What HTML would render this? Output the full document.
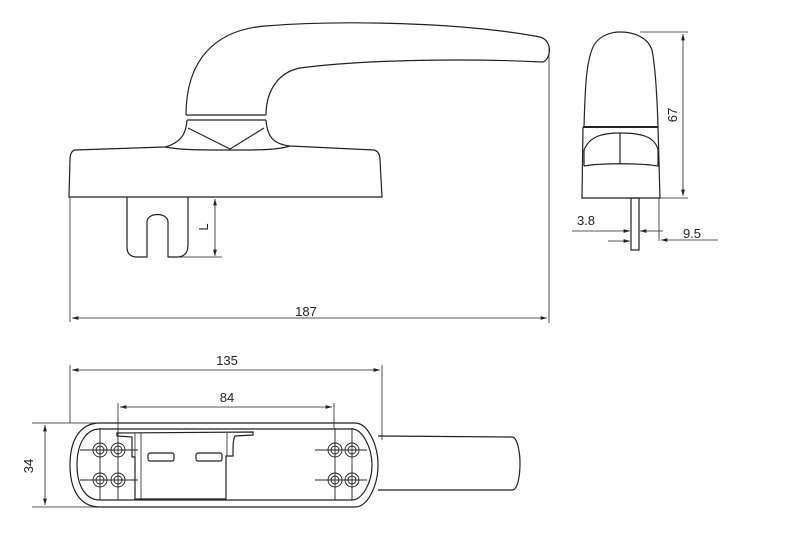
<!DOCTYPE html>
<html><head><meta charset="utf-8"><style>
html,body{margin:0;padding:0;background:#fff;}
svg{display:block}
text{font-family:"Liberation Sans",sans-serif;font-size:13px;fill:#222}
</style></head><body>
<svg width="799" height="540" viewBox="0 0 799 540" xmlns="http://www.w3.org/2000/svg">
<defs>
<marker id="a" viewBox="0 0 10 6" refX="10" refY="3" markerWidth="8" markerHeight="5" orient="auto-start-reverse"><path d="M0,0 L10,3 L0,6 z" fill="#222"/></marker>
</defs>
<g fill="none" stroke="#222" stroke-width="1.2">
<!-- handle side view -->
<path d="M186,115 C186,60 215,30 265,26 C340,20 460,22 540,37 C552,40 552,58 543,62 C460,58 360,60 300,68 C275,73 266,95 266,115"/>
<line x1="186" y1="115" x2="266" y2="115"/>
<line x1="187" y1="120" x2="266" y2="120"/>
<path d="M187,120 C186,135 180,143 165,147 L75,150 C71,151 70,155 70,160 L69,197 L382,197 L380,160 C380,154 378,151 374,150 L290,146 C272,144 267,135 266,120"/>
<path d="M165,147 C180,150 200,150 230,150 C260,150 278,150 290,146"/>
<path d="M188,128 L230,149 L264,128"/>
<!-- spindle plate -->
<path d="M127,197 L127,247 C127,254 131,257 137,257 L147,257 L147,222 C147,212 168,212 168,222 L168,257 L177,257 C184,257 188,253 188,245 L188,197"/>
<!-- handle end view -->
<path d="M584,127 C585,90 586,60 594,45 C600,35 612,32 620,32 C635,32 648,38 652,50 C655,65 657,95 658,127"/>
<line x1="583" y1="127" x2="658" y2="127" stroke-width="2"/>
<path d="M583,127 L582,198 L660,198 L658,127"/>
<path d="M584,166 L584,150 C590,135 605,133 620,133 C640,133 655,136 658,150 L658,166 C640,163 600,163 584,166"/>
<line x1="620" y1="133" x2="620" y2="164"/>
<rect x="631" y="198" width="8" height="52"/>
<!-- bottom view -->
<path d="M100,423 L355,423 C368,423 378,445 378,465 C378,485 368,507 355,507 L100,507 C80,507 70,490 70,465 C70,440 80,423 100,423 z"/>
<path d="M100,429 L352,429 C362,429 372,447 372,465 C372,483 362,500 352,500 L100,500 C85,500 77,485 77,465 C77,445 85,429 100,429 z"/>
<path d="M378,436 L512,437 C518,437 520,455 520,463 C520,475 518,490 512,490 L378,490"/>
<path d="M117,433 L253,432 L253,435 L235,436 C233,440 233,445 233,456 L226,456 L226,499 L135,499 L135,457 L132,457 L132,437 L117,436 z"/>
<line x1="135" y1="433" x2="135" y2="457" stroke-width="0.8"/>
<line x1="141" y1="433" x2="141" y2="499" stroke-width="0.8"/>
<line x1="227" y1="433" x2="227" y2="456" stroke-width="0.8"/>
<rect x="148" y="453" width="26" height="8" rx="2"/>
<rect x="196" y="453" width="26" height="8" rx="2"/>
<g stroke-width="0.9">
<circle cx="100" cy="450" r="7"/><circle cx="100" cy="450" r="4"/>
<circle cx="118" cy="450" r="7"/><circle cx="118" cy="450" r="4"/>
<circle cx="100" cy="480" r="7"/><circle cx="100" cy="480" r="4"/>
<circle cx="118" cy="480" r="7"/><circle cx="118" cy="480" r="4"/>
<circle cx="335" cy="450" r="7"/><circle cx="335" cy="450" r="4"/>
<circle cx="352" cy="450" r="7"/><circle cx="352" cy="450" r="4"/>
<circle cx="335" cy="480" r="7"/><circle cx="335" cy="480" r="4"/>
<circle cx="352" cy="480" r="7"/><circle cx="352" cy="480" r="4"/>
<line x1="100" y1="428" x2="100" y2="500"/><line x1="118" y1="428" x2="118" y2="500"/>
<line x1="335" y1="428" x2="335" y2="500"/><line x1="352" y1="428" x2="352" y2="500"/>
<line x1="80" y1="450" x2="138" y2="450"/><line x1="80" y1="480" x2="138" y2="480"/>
<line x1="315" y1="450" x2="367" y2="450"/><line x1="315" y1="480" x2="367" y2="480"/>
</g>
</g>
<!-- dimensions -->
<g fill="none" stroke="#222" stroke-width="0.8">
<line x1="70" y1="197" x2="70" y2="322"/>
<line x1="549" y1="45" x2="549" y2="323"/>
<line x1="72" y1="318" x2="547" y2="318" marker-start="url(#a)" marker-end="url(#a)"/>
<line x1="177" y1="257" x2="222" y2="257"/>
<line x1="215" y1="199" x2="215" y2="256" marker-start="url(#a)" marker-end="url(#a)"/>
<line x1="640" y1="32" x2="688" y2="32"/>
<line x1="660" y1="198" x2="688" y2="198"/>
<line x1="683" y1="34" x2="683" y2="196" marker-start="url(#a)" marker-end="url(#a)"/>
<line x1="572" y1="231" x2="630" y2="231" marker-end="url(#a)"/>
<line x1="663" y1="231" x2="640" y2="231" marker-end="url(#a)"/>
<line x1="608" y1="241" x2="630" y2="241" marker-end="url(#a)"/>
<line x1="659" y1="198" x2="659" y2="241"/>
<line x1="718" y1="240" x2="661" y2="240" marker-end="url(#a)"/>
<line x1="70" y1="365" x2="70" y2="423"/>
<line x1="382" y1="365" x2="382" y2="440"/>
<line x1="72" y1="370" x2="380" y2="370" marker-start="url(#a)" marker-end="url(#a)"/>
<line x1="118" y1="403" x2="118" y2="428"/>
<line x1="334" y1="403" x2="334" y2="428"/>
<line x1="120" y1="407" x2="332" y2="407" marker-start="url(#a)" marker-end="url(#a)"/>
<line x1="32" y1="423" x2="100" y2="423"/>
<line x1="32" y1="507" x2="100" y2="507"/>
<line x1="45" y1="425" x2="45" y2="505" marker-start="url(#a)" marker-end="url(#a)"/>
</g>
<text x="306" y="316" text-anchor="middle">187</text>
<text x="208" y="227" text-anchor="middle" transform="rotate(-90 208 227)">L</text>
<text x="677" y="115" text-anchor="middle" transform="rotate(-90 677 115)">67</text>
<text x="586" y="225" text-anchor="middle">3.8</text>
<text x="692" y="238" text-anchor="middle">9.5</text>
<text x="227" y="365" text-anchor="middle">135</text>
<text x="227" y="402" text-anchor="middle">84</text>
<text x="33" y="466" text-anchor="middle" transform="rotate(-90 33 466)">34</text>
</svg>
</body></html>
